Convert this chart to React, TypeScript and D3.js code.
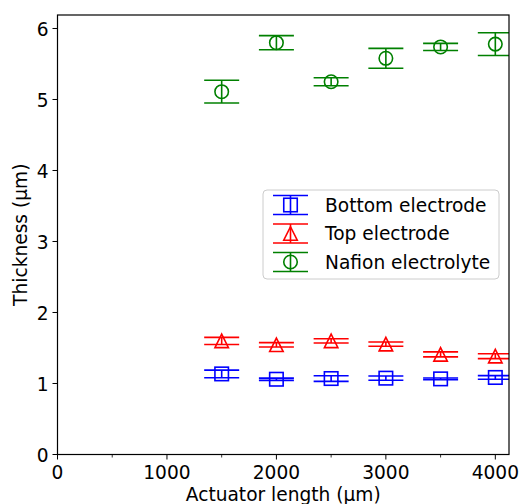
import React from 'react';
import * as d3 from 'd3';

const lengths = [1500, 2000, 2500, 3000, 3500, 4000];
const bottomVals = [1.135, 1.06, 1.07, 1.075, 1.065, 1.085];
const bottomErr = [0.054, 0.016, 0.04, 0.03, 0.012, 0.026];
const topVals = [1.6, 1.545, 1.6, 1.555, 1.41, 1.385];
const topErr = [0.05, 0.03, 0.03, 0.03, 0.035, 0.035];
const nafionVals = [5.11, 5.8, 5.25, 5.58, 5.74, 5.78];
const nafionErr = [0.16, 0.1, 0.056, 0.14, 0.05, 0.16];
const xTicks = [0, 1000, 2000, 3000, 4000];
const xMinor = [500, 1500, 2500, 3500];
const yTicks = [0, 1, 2, 3, 4, 5, 6];

const W = 520;
const H = 504;
const m = { left: 57.5, right: 509, top: 15, bottom: 454.5 };
const font = 'DejaVu Sans, sans-serif';
const fs = 18.6;
const capW = 17.5;
const ms = 13.5;

const series = [
  { name: 'Bottom electrode', color: '#0000ff', shape: 'square', vals: bottomVals, err: bottomErr },
  { name: 'Top electrode', color: '#ff0000', shape: 'triangle', vals: topVals, err: topErr },
  { name: 'Nafion electrolyte', color: '#008000', shape: 'circle', vals: nafionVals, err: nafionErr },
];

function Marker({ shape, x, y, color }: { shape: string; x: number; y: number; color: string }) {
  const h = ms / 2;
  if (shape === 'square') {
    return <rect x={x - h} y={y - h} width={ms} height={ms} fill="none" stroke={color} strokeWidth={1.6} />;
  }
  if (shape === 'triangle') {
    const pts = [[x, y - h], [x + h, y + h], [x - h, y + h]].map((p) => p.join(',')).join(' ');
    return <polygon points={pts} fill="none" stroke={color} strokeWidth={1.6} />;
  }
  return <circle cx={x} cy={y} r={h} fill="none" stroke={color} strokeWidth={1.6} />;
}

function ErrBar({ x, y, y0, y1, color, shape }: any) {
  return (
    <g>
      <line x1={x} x2={x} y1={y0} y2={y1} stroke={color} strokeWidth={1.6} />
      <line x1={x - capW} x2={x + capW} y1={y0} y2={y0} stroke={color} strokeWidth={1.6} />
      <line x1={x - capW} x2={x + capW} y1={y1} y2={y1} stroke={color} strokeWidth={1.6} />
      <Marker shape={shape} x={x} y={y} color={color} />
    </g>
  );
}

export default function App() {
  const x = d3.scaleLinear().domain([0, 4125]).range([m.left, m.right]);
  const y = d3.scaleLinear().domain([0, 6.19]).range([m.bottom, m.top]);

  const lg = { x: 263, y: 190, w: 236, h: 89 };
  const rowY = [205, 233.5, 262];

  return (
    <svg width={W} height={H} style={{ position: 'absolute', left: 0, top: 0 }} fontFamily={font}>
      <rect width={W} height={H} fill="#fff" />
      <clipPath id="plotclip">
        <rect x={m.left} y={m.top} width={m.right - m.left} height={m.bottom - m.top} />
      </clipPath>
      <g clipPath="url(#plotclip)">
        {series.map((s) =>
          lengths.map((L, i) => (
            <ErrBar
              key={s.name + L}
              x={x(L)}
              y={y(s.vals[i])}
              y0={y(s.vals[i] + s.err[i])}
              y1={y(s.vals[i] - s.err[i])}
              color={s.color}
              shape={s.shape}
            />
          ))
        )}
      </g>
      <rect x={m.left} y={m.top} width={m.right - m.left} height={m.bottom - m.top} fill="none" stroke="#000" strokeWidth={1.2} />
      {xTicks.map((t) => (
        <g key={'x' + t}>
          <line x1={x(t)} x2={x(t)} y1={m.bottom} y2={m.bottom + 5} stroke="#000" strokeWidth={1} />
          <text x={x(t)} y={m.bottom + 24} textAnchor="middle" fontSize={fs}>{t}</text>
        </g>
      ))}
      {xMinor.map((t) => (
        <line key={'xm' + t} x1={x(t)} x2={x(t)} y1={m.bottom} y2={m.bottom + 3} stroke="#000" strokeWidth={0.8} />
      ))}
      {yTicks.map((t) => (
        <g key={'y' + t}>
          <line x1={m.left - 5} x2={m.left} y1={y(t)} y2={y(t)} stroke="#000" strokeWidth={1} />
          <text x={m.left - 9} y={y(t) + 7.5} textAnchor="end" fontSize={fs}>{t}</text>
        </g>
      ))}
      <text x={(m.left + m.right) / 2} y={m.bottom + 46.5} textAnchor="middle" fontSize={fs}>Actuator length (µm)</text>
      <text transform={`translate(27,${(m.top + m.bottom) / 2}) rotate(-90)`} textAnchor="middle" fontSize={fs}>Thickness (µm)</text>
      <rect x={lg.x} y={lg.y} width={lg.w} height={lg.h} rx={4} fill="#fff" fillOpacity={0.8} stroke="#cccccc" strokeWidth={1} />
      {series.map((s, i) => (
        <g key={'lg' + s.name}>
          <ErrBar x={290.5} y={rowY[i]} y0={rowY[i] - 9.5} y1={rowY[i] + 9.5} color={s.color} shape={s.shape} />
          <text x={325} y={rowY[i] + 6.8} fontSize={fs}>{s.name}</text>
        </g>
      ))}
    </svg>
  );
}
